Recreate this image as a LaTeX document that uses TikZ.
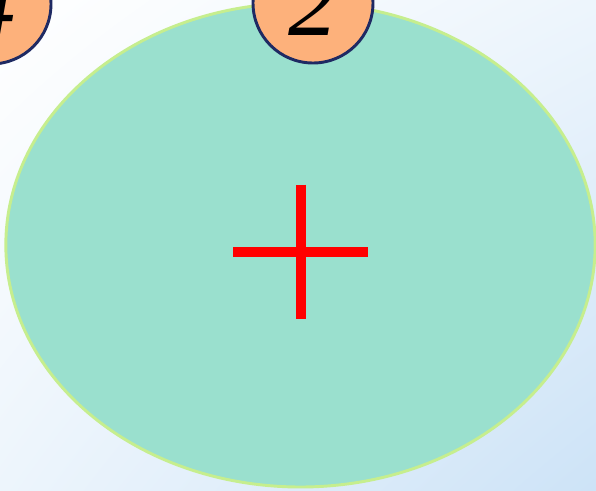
\documentclass[tikz,border=0pt]{standalone}
\usepackage{fontspec}
\setmainfont{Liberation Serif}
\usepackage{tikz}
\usetikzlibrary{shapes.geometric, shadings, positioning}
\definecolor{bgblue}{HTML}{CDE3F7}
\definecolor{bgpale}{HTML}{EDF5FC}
\definecolor{cellfill}{HTML}{9AE0CE}
\definecolor{cellrim}{HTML}{C6EE8E}
\definecolor{numfill}{HTML}{FDB17B}
\definecolor{numrim}{HTML}{1F2A63}
\tikzset{
    cell/.style={ellipse, draw=cellrim, fill=cellfill, line width=2.2pt, inner sep=0pt,
        minimum width=442pt, minimum height=363pt},
    num/.style={circle, draw=numrim, fill=numfill, line width=2.2pt, inner sep=0pt,
        minimum size=90pt, font=\fontsize{74}{74}\selectfont\itshape},
    plus/.style={red, line width=7.5pt}
}
\begin{document}
\begin{tikzpicture}[x=0.75pt, y=-0.75pt]
    \useasboundingbox (0,0) rectangle (596,490);
    \shade[upper left=white, upper right=bgpale, lower left=bgpale, lower right=bgblue]
        (0,0) rectangle (596,490);
    \node[cell] (cell) at (300.5,245) {};
    \node[num] (four) at (-9,4) {4};
    \node[num] (two) at (313,3) {2};
    \coordinate (mid) at (300.5,252);
    \draw[plus] ([xshift=-50.6pt]mid) -- ([xshift=50.6pt]mid);
    \draw[plus] ([yshift=50.6pt]mid) -- ([yshift=-50.6pt]mid);
\end{tikzpicture}
\end{document}
